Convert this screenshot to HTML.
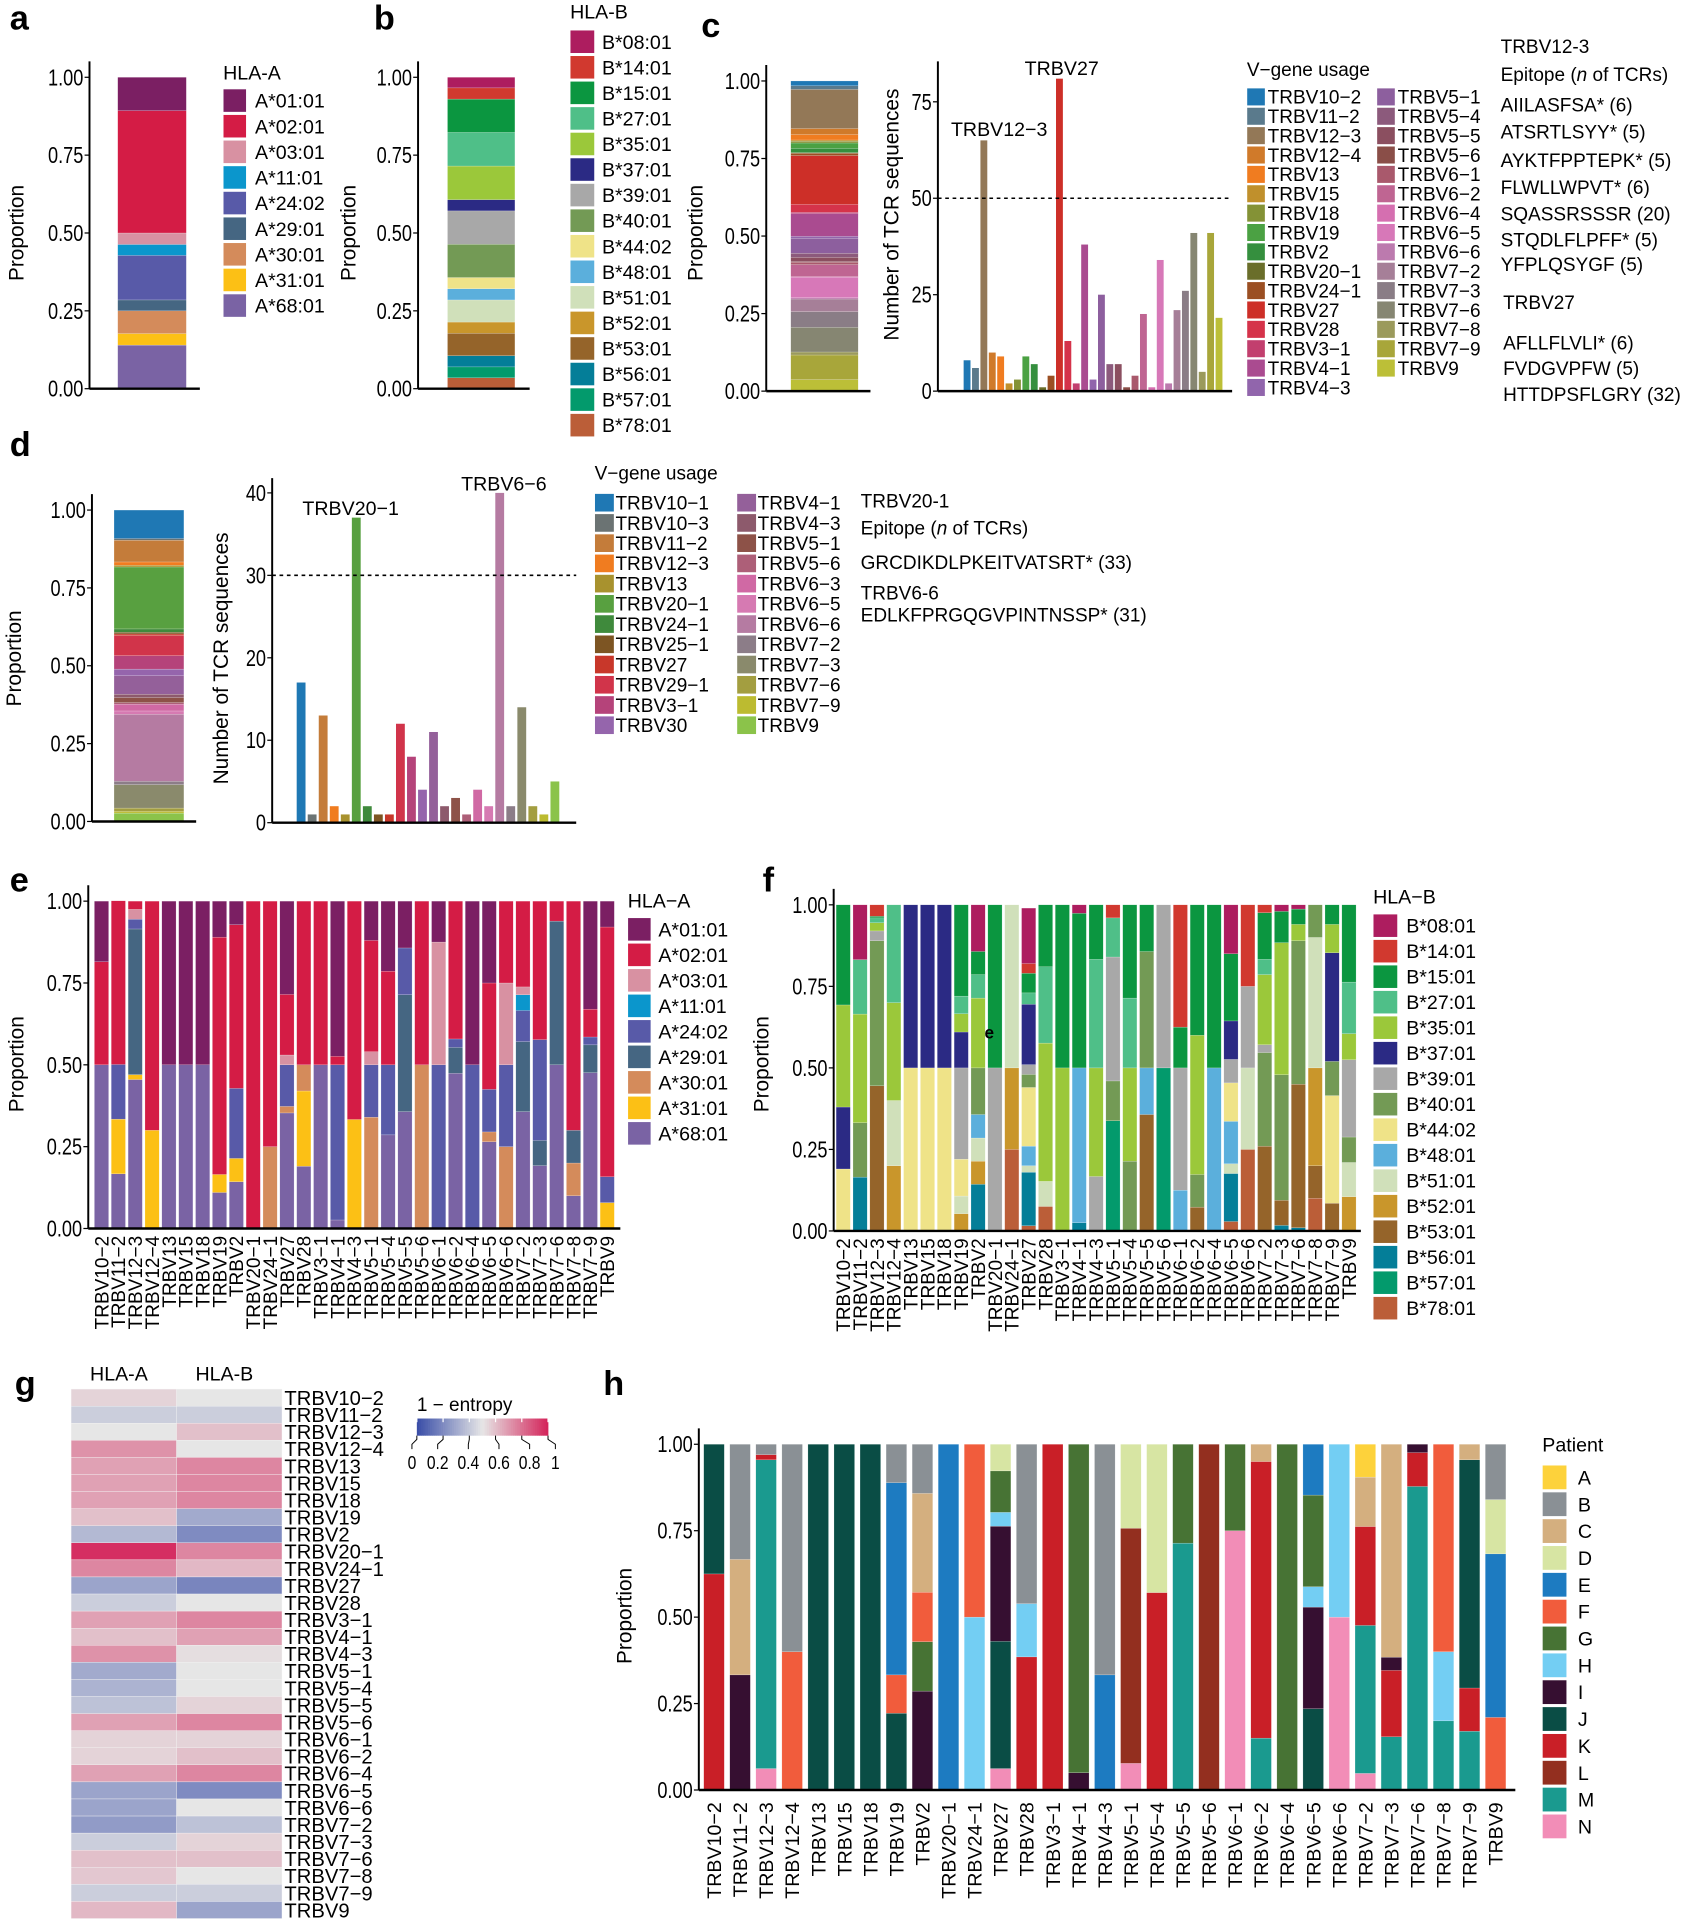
<!DOCTYPE html>
<html><head><meta charset="utf-8">
<style>
html,body{margin:0;padding:0;background:#fff;}
svg{display:block;}
text{font-family:"Liberation Sans Narrow","Liberation Sans",sans-serif;fill:#000;}
.lt{font-family:"Liberation Sans",sans-serif;}
</style></head>
<body>
<svg id="fig" xmlns="http://www.w3.org/2000/svg" width="1698" height="1920" viewBox="0 0 1385 1566">
<g id="layer"></g>
</svg>
<script>
// ---------- DATA ----------
const hlaA = ["A*01:01","A*02:01","A*03:01","A*11:01","A*24:02","A*29:01","A*30:01","A*31:01","A*68:01"];
const hlaAColors = ["#7b1f63","#d41c45","#d891a2","#0b96cc","#585aa8","#456682","#d48b5b","#fcc015","#7a63a4"];
const hlaB = ["B*08:01","B*14:01","B*15:01","B*27:01","B*35:01","B*37:01","B*39:01","B*40:01","B*44:02","B*48:01","B*51:01","B*52:01","B*53:01","B*56:01","B*57:01","B*78:01"];
const hlaBColors = ["#ad1d5f","#d1392f","#0b9640","#4fbf88","#9bc83a","#2b2a84","#a8a8a8","#739a55","#efe388","#5bafdc","#d0e0ba","#c9962b","#95642a","#047e98","#039a6c","#bb5e38"];
const aValues = [0.107,0.393,0.037,0.035,0.143,0.035,0.073,0.037,0.14];
const bValues = [0.034,0.036,0.107,0.108,0.108,0.036,0.107,0.107,0.036,0.036,0.071,0.036,0.072,0.036,0.035,0.035];

const cGenes = ["TRBV10-2","TRBV11-2","TRBV12-3","TRBV12-4","TRBV13","TRBV15","TRBV18","TRBV19","TRBV2","TRBV20-1","TRBV24-1","TRBV27","TRBV28","TRBV3-1","TRBV4-1","TRBV4-3","TRBV5-1","TRBV5-4","TRBV5-5","TRBV5-6","TRBV6-1","TRBV6-2","TRBV6-4","TRBV6-5","TRBV6-6","TRBV7-2","TRBV7-3","TRBV7-6","TRBV7-8","TRBV7-9","TRBV9"];
const cCounts = [8,6,65,10,9,2,3,9,7,1,4,81,13,2,38,3,25,7,7,1,4,20,1,34,2,21,26,41,5,41,19];
const cColors = ["#1f78b4","#5a7a8c","#937857","#d07a2a","#f07c20","#c0902c","#849236","#4ba143","#358f3e","#6a6e2a","#9b4f23","#cd2f28","#d5334a","#c23f6e","#aa4b90","#9165ac","#8d5f9e","#8c5a7c","#8b4f60","#8a4e48","#a9596c","#bf6592","#d56fb0","#d778b8","#bc7aae","#a67f98","#8a7d86","#868672","#9b9a5c","#a8a63a","#bcbf37"];
const cTicks = [0,25,50,75];

const dGenes = ["TRBV10-1","TRBV10-3","TRBV11-2","TRBV12-3","TRBV13","TRBV20-1","TRBV24-1","TRBV25-1","TRBV27","TRBV29-1","TRBV3-1","TRBV30","TRBV4-1","TRBV4-3","TRBV5-1","TRBV5-6","TRBV6-3","TRBV6-5","TRBV6-6","TRBV7-2","TRBV7-3","TRBV7-6","TRBV7-9","TRBV9"];
const dCounts = [17,1,13,2,1,37,2,1,1,12,8,4,11,2,3,1,4,2,40,2,14,2,1,5];
const dColors = ["#1f78b4","#6b7373","#c47c3a","#f07c20","#a8922e","#58a040","#3f8a3c","#7d5523","#c8372a","#d1344a","#b5437a","#9565ac","#94609a","#8d5a6c","#8d5248","#ad5f78","#d069a4","#d67ab2","#b57ba2","#8c7d88","#8a8a6c","#a39e40","#bcbb30","#8bc34a"];
const dTicks = [0,10,20,30,40];

const vCats = ["TRBV10-2","TRBV11-2","TRBV12-3","TRBV12-4","TRBV13","TRBV15","TRBV18","TRBV19","TRBV2","TRBV20-1","TRBV24-1","TRBV27","TRBV28","TRBV3-1","TRBV4-1","TRBV4-3","TRBV5-1","TRBV5-4","TRBV5-5","TRBV5-6","TRBV6-1","TRBV6-2","TRBV6-4","TRBV6-5","TRBV6-6","TRBV7-2","TRBV7-3","TRBV7-6","TRBV7-8","TRBV7-9","TRBV9"];
const propTicks = [0,0.25,0.5,0.75,1];

const eKeys = ["01","02","03","11","24","29","30","31","68"];
const eSegments = [
 {"68":.5,"02":.315,"01":.185},{"68":.167,"31":.167,"24":.167,"02":.5},
 {"68":.455,"31":.015,"29":.445,"24":.03,"03":.03,"02":.025},{"31":.3,"02":.7},
 {"68":.5,"01":.5},{"68":.5,"01":.5},{"68":.5,"01":.5},
 {"68":.11,"31":.055,"02":.725,"01":.11},{"68":.143,"31":.071,"24":.214,"02":.5,"01":.072},
 {"02":1},{"30":.25,"02":.75},
 {"68":.353,"30":.02,"24":.127,"03":.03,"02":.185,"01":.285},{"68":.19,"31":.23,"30":.08,"02":.5},
 {"68":.5,"02":.5},{"68":.026,"24":.474,"02":.026,"01":.474},{"31":.333,"02":.667},
 {"30":.34,"24":.16,"03":.04,"02":.34,"01":.12},{"68":.286,"24":.214,"02":.286,"01":.214},
 {"68":.357,"29":.357,"24":.143,"01":.143},{"30":.5,"02":.5},{"24":.5,"03":.375,"01":.125},
 {"68":.474,"29":.079,"24":.026,"02":.421},{"24":.5,"01":.5},
 {"68":.265,"30":.03,"24":.13,"02":.325,"01":.25},{"30":.25,"24":.25,"03":.25,"02":.25},
 {"68":.357,"29":.214,"24":.095,"11":.048,"03":.024,"02":.262},{"68":.192,"29":.077,"24":.308,"02":.423},
 {"68":.5,"29":.439,"02":.061},{"68":.1,"30":.1,"29":.1,"02":.7},
 {"68":.476,"29":.085,"24":.024,"02":.085,"01":.33},{"31":.079,"24":.079,"02":.763,"01":.079}
];
const fKeys = ["08","14","15","27","35","37","39","40","44","48","51","52","53","56","57","78"];
const fSegments = [
 {"44":.19,"37":.19,"35":.313,"15":.307},{"56":.165,"40":.167,"35":.333,"27":.167,"08":.168},
 {"53":.445,"40":.445,"39":.03,"35":.025,"27":.015,"15":.005,"14":.035},{"52":.2,"51":.2,"35":.3,"27":.3},
 {"44":.5,"37":.5},{"44":.5,"37":.5},{"44":.5,"37":.5},
 {"52":.053,"51":.054,"44":.113,"39":.28,"37":.11,"35":.056,"27":.054,"15":.28},
 {"56":.143,"52":.071,"51":.071,"48":.072,"40":.143,"35":.214,"27":.072,"15":.071,"08":.143},
 {"39":.5,"15":.5},{"78":.25,"52":.25,"51":.5},
 {"78":.016,"56":.164,"51":.02,"48":.06,"44":.18,"40":.04,"39":.03,"37":.185,"27":.035,"15":.06,"14":.03,"08":.17},
 {"78":.075,"51":.077,"35":.424,"27":.234,"15":.19},{"35":.5,"15":.5},
 {"56":.025,"48":.475,"15":.474,"08":.026},{"39":.167,"35":.333,"27":.333,"15":.167},
 {"57":.338,"40":.122,"39":.38,"27":.12,"14":.04},{"40":.214,"35":.286,"27":.214,"15":.286},
 {"53":.357,"48":.143,"40":.357,"15":.143},{"57":.5,"39":.5},{"48":.125,"39":.375,"15":.125,"14":.375},
 {"53":.073,"40":.1,"35":.427,"15":.4},{"48":.5,"15":.5},
 {"78":.029,"56":.147,"51":.03,"48":.13,"44":.118,"39":.072,"37":.118,"15":.206,"08":.15},
 {"78":.25,"51":.25,"39":.25,"14":.25},
 {"53":.26,"40":.287,"39":.024,"35":.215,"27":.047,"15":.143,"14":.024},
 {"56":.017,"53":.077,"40":.385,"35":.405,"15":.096,"08":.02},
 {"56":.01,"53":.44,"40":.44,"35":.05,"15":.047,"08":.013},
 {"78":.1,"53":.1,"52":.3,"51":.4,"40":.1},
 {"53":.085,"44":.33,"40":.105,"37":.333,"35":.087,"15":.06},
 {"52":.105,"51":.105,"40":.078,"39":.237,"35":.08,"27":.158,"15":.237}
];
const gColumns = ["HLA-A","HLA-B"];
const gHlaA = [.55,.42,.5,.72,.68,.68,.68,.6,.35,.98,.75,.28,.42,.68,.6,.72,.3,.33,.38,.68,.55,.55,.68,.28,.28,.25,.42,.6,.58,.42,.62];
const gHlaB = [.5,.42,.6,.5,.75,.75,.75,.3,.2,.75,.62,.18,.5,.75,.68,.52,.5,.5,.55,.75,.55,.6,.75,.2,.5,.38,.55,.6,.5,.42,.28];
const gScaleTicks = ["0","0.2","0.4","0.6","0.8","1"];
const patients = ["A","B","C","D","E","F","G","H","I","J","K","L","M","N"];
const patientColors = ["#fdd23b","#8a9095","#d4af7f","#d7e5a3","#1d7bc1","#f15c3c","#477334","#73cef3","#360f31","#0a4d45","#c91f27","#932f1f","#1a9a8f","#f28db7"];
const hSegments = [
 {K:.625,J:.375},{I:.333,C:.334,B:.333},{N:.062,M:.893,K:.015,B:.03},{F:.4,B:.6},
 {J:1},{J:1},{J:1},{J:.222,F:.111,E:.556,B:.111},{I:.286,G:.143,F:.143,C:.286,B:.142},
 {E:1},{H:.5,F:.5},{N:.062,J:.368,I:.333,H:.04,G:.12,D:.077},{K:.385,H:.154,B:.461},
 {K:1},{I:.05,G:.95},{E:.333,B:.667},{N:.077,L:.68,D:.243},{K:.571,D:.429},{M:.714,G:.286},
 {L:1},{N:.75,G:.25},{M:.15,K:.8,C:.05},{G:1},{J:.235,I:.294,H:.059,G:.265,E:.147},
 {N:.5,H:.5},{N:.048,M:.428,K:.286,C:.143,A:.095},{M:.154,K:.192,I:.038,C:.616},
 {M:.878,K:.098,I:.024},{M:.2,H:.2,F:.6},{M:.17,K:.125,J:.66,C:.045},{F:.21,E:.473,D:.157,B:.16}
];

// ---------- HELPERS ----------
const NS="http://www.w3.org/2000/svg";
const root=document.getElementById('layer');
function el(tag,attrs,parent,txt){
  const e=document.createElementNS(NS,tag);
  for(const k in attrs) e.setAttribute(k,attrs[k]);
  if(txt!==undefined) e.textContent=txt;
  (parent||root).appendChild(e);
  return e;
}
function group(name,parent){
  const g=el('g',{},parent);
  
  
  return g;
}
function linScale(d0,d1,r0,r1){return v=>r0+(v-d0)/(d1-d0)*(r1-r0);}
function yAxis(g,x,y,ticks,fmt,topY,fs){
  const ax=el('line',{x1:x,x2:x,y1:topY,y2:y(ticks[0]),stroke:'#000','stroke-width':1.6},g);
  
  
  ticks.forEach(t=>{
    el('line',{x1:x-4,x2:x,y1:y(t),y2:y(t),stroke:'#000','stroke-width':1},g);
    const tl=el('text',{x:0,y:0,transform:`translate(${x-5} ${y(t)+6.5}) scale(0.78 1)`,'text-anchor':'end','font-size':fs||19},g,fmt(t));
    
    
  });
}
function xLine(g,x0,x1,y){
  const l=el('line',{x1:x0,x2:x1,y1:y,y2:y,stroke:'#000','stroke-width':2},g);
  
  
}
function yTitle(g,x,cy,txt,fs){
  const t=el('text',{x:x,y:cy,transform:`rotate(-90 ${x} ${cy})`,'text-anchor':'middle','font-size':fs||17,class:'lt'},g,txt);
  
  
}
function letter(ch,x,y){
  const t=el('text',{x:x,y:y,'font-size':28,'font-weight':'bold',class:'lt'},root,ch);
  
  
}
function legend(g,title,labels,colors,x,tx,y0,step,sw,sh,fs,ty,sx){
  sx=sx||1;
  if(title){
    const tt=el('text',{x:0,y:0,transform:`translate(${x} ${ty}) scale(${sx} 1)`,'font-size':fs},g,title);
    
    
  }
  labels.forEach((lab,i)=>{
    const cy=y0+i*step;
    const r=el('rect',{x:x,y:cy-sh/2,width:sw,height:sh,fill:colors[i],stroke:'#fff','stroke-width':0.6},g);
    
    
    const t=el('text',{x:0,y:0,transform:`translate(${tx} ${cy+fs*0.36}) scale(${sx} 1)`,'font-size':fs},g,lab);
    
    
  });
}
function stackSingle(g,vals,colors,x,w,y){
  let acc=0;
  for(let i=vals.length-1;i>=0;i--){
    const y0=y(acc), y1=y(acc+vals[i]);
    const r=el('rect',{x:x,y:y1,width:w,height:y0-y1,fill:colors[i],stroke:'#fff','stroke-width':0.3,'stroke-opacity':0.5},g);
    
    
    acc+=vals[i];
  }
}
function stackCats(g,segs,keys,colors,x0,step,w,y){
  segs.forEach((seg,ci)=>{
    let acc=0;
    for(let k=keys.length-1;k>=0;k--){
      const v=seg[keys[k]]; if(!v) continue;
      const y0=y(acc), y1=y(acc+v);
      const r=el('rect',{x:x0+ci*step,y:y1,width:w,height:y0-y1,fill:colors[k],stroke:'#fff','stroke-width':0.3,'stroke-opacity':0.5},g);
      
      
      acc+=v;
    }
  });
}
function xLabels(g,cats,x0,step,w,yTop,fs){
  cats.forEach((c,i)=>{
    const cx=x0+i*step+w/2+fs*0.36;
    const t=el('text',{x:cx,y:yTop,transform:`rotate(-90 ${cx} ${yTop})`,'text-anchor':'end','font-size':fs,class:'lt'},g,c);
    
    
  });
}
const f2=v=>v.toFixed(2);

// ---------- PANEL A ----------
letter('a',8,24);
{const g=group('panel-a');
 const y=linScale(0,1,317,63);
 stackSingle(g,aValues,hlaAColors,96,56,y);
 yAxis(g,73,y,propTicks,f2,50);
 xLine(g,73,163,317);
 yTitle(g,19,190,'Proportion');
 legend(g,'HLA-A',hlaA,hlaAColors,182,208,82,20.9,19,19,16,65);
}
// ---------- PANEL B ----------
letter('b',305,24);
{const g=group('panel-b');
 const y=linScale(0,1,317,63);
 stackSingle(g,bValues,hlaBColors,365,55,y);
 yAxis(g,341,y,propTicks,f2,50);
 xLine(g,341,432,317);
 yTitle(g,290,190,'Proportion');
 legend(g,'HLA-B',hlaB,hlaBColors,465,491,34,20.85,20,19,16,15);
}
// ---------- PANEL C ----------
letter('c',572,30);
{const g=group('panel-c-stack');
 const y=linScale(0,1,319,66);
 const tot=cCounts.reduce((a,b)=>a+b,0);
 stackSingle(g,cCounts.map(v=>v/tot),cColors,645,55,y);
 yAxis(g,625,y,propTicks,f2,53);
 xLine(g,625,710,319);
 yTitle(g,573,190,'Proportion');
}
{const g=group('panel-c-bars');
 const y=linScale(0,75,319,83);
 const x0=786,step=6.85,w=5.6;
 cCounts.forEach((v,i)=>{
   const r=el('rect',{x:x0+i*step,y:y(v),width:w,height:y(0)-y(v),fill:cColors[i]},g);
   
   
 });
 yAxis(g,765,y,cTicks,v=>String(v),50);
 xLine(g,765,1005,319);
 const dl=el('line',{x1:765,x2:1003,y1:y(50),y2:y(50),stroke:'#000','stroke-width':1.3,'stroke-dasharray':'3,3'},g);
 
 
 yTitle(g,733,175,'Number of TCR sequences');
 const a1=el('text',{x:866,y:61,'text-anchor':'middle','font-size':16},g,'TRBV27');
 
 
 const a2=el('text',{x:815,y:111,'text-anchor':'middle','font-size':16},g,'TRBV12\u22123');
 
 
 const lg=group('panel-c-legend',g);
 const lab=cGenes.map(s=>s.replace('-','\u2212'));
 legend(lg,'V\u2212gene usage',lab.slice(0,16),cColors.slice(0,16),1017,1034,79,15.8,15,14.5,15.5,62);
 legend(lg,null,lab.slice(16),cColors.slice(16),1123,1140,79,15.8,15,14.5,15.5);
 const ep=group('panel-c-epitopes',g);
 [['TRBV12-3',43],['Epitope (n of TCRs)',66],['AIILASFSA* (6)',91],['ATSRTLSYY* (5)',113],['AYKTFPPTEPK* (5)',136],['FLWLLWPVT* (6)',158],['SQASSRSSSR (20)',180],['STQDLFLPFF* (5)',201],['YFPLQSYGF (5)',221],['TRBV27',252],['AFLLFLVLI* (6)',285],['FVDGVPFW (5)',306],['HTTDPSFLGRY (32)',327]].forEach(([s,yy],i)=>{
   const t=el('text',{x:i<9?1224:1226,y:yy,'font-size':15.5},ep);
   if(s.startsWith('Epitope')){t.innerHTML='Epitope (<tspan font-style="italic">n</tspan> of TCRs)';}
   else t.textContent=s;
   
   
 });
}
// ---------- PANEL D ----------
letter('d',8,372);
{const g=group('panel-d-stack');
 const y=linScale(0,1,670,416);
 const tot=dCounts.reduce((a,b)=>a+b,0);
 stackSingle(g,dCounts.map(v=>v/tot),dColors,93,57,y);
 yAxis(g,75,y,propTicks,f2,403);
 xLine(g,75,160,670);
 yTitle(g,17,537,'Proportion');
}
{const g=group('panel-d-bars');
 const y=linScale(0,40,671,402);
 const x0=242,step=9.0,w=7.2;
 dCounts.forEach((v,i)=>{
   const r=el('rect',{x:x0+i*step,y:y(v),width:w,height:y(0)-y(v),fill:dColors[i]},g);
   
   
 });
 yAxis(g,222,y,dTicks,v=>String(v),390);
 xLine(g,222,470,671);
 const dl=el('line',{x1:222,x2:470,y1:y(30),y2:y(30),stroke:'#000','stroke-width':1.3,'stroke-dasharray':'3,3'},g);
 
 
 yTitle(g,186,537,'Number of TCR sequences');
 const a1=el('text',{x:286,y:420,'text-anchor':'middle','font-size':16},g,'TRBV20\u22121');
 
 
 const a2=el('text',{x:411,y:400,'text-anchor':'middle','font-size':16},g,'TRBV6\u22126');
 
 
 const lg=group('panel-d-legend',g);
 const lab=dGenes.map(s=>s.replace('-','\u2212'));
 legend(lg,'V\u2212gene usage',lab.slice(0,12),dColors.slice(0,12),485,502,410,16.5,16,15,15.5,391);
 legend(lg,null,lab.slice(12),dColors.slice(12),601,618,410,16.5,16,15,15.5);
 const ep=group('panel-d-epitopes',g);
 [['TRBV20-1',414],['Epitope (n of TCRs)',436],['GRCDIKDLPKEITVATSRT* (33)',464],['TRBV6-6',489],['EDLKFPRGQGVPINTNSSP* (31)',507]].forEach(([s,yy])=>{
   const t=el('text',{x:702,y:yy,'font-size':15.5},ep);
   if(s.startsWith('Epitope')){t.innerHTML='Epitope (<tspan font-style="italic">n</tspan> of TCRs)';}
   else t.textContent=s;
   
   
 });
}
// ---------- PANEL E ----------
letter('e',8,727);
{const g=group('panel-e');
 const y=linScale(0,1,1002,735);
 const x0=77,step=13.75,w=11.6;
 stackCats(g,eSegments,eKeys,hlaAColors,x0,step,w,y);
 yAxis(g,72,y,propTicks,f2,722);
 xLine(g,72,506,1002);
 yTitle(g,19,868,'Proportion');
 xLabels(g,vCats.map(s=>s.replace('-','\u2212')),x0,step,w,1008,15.5);
 legend(g,'HLA\u2212A',hlaA,hlaAColors,512,537,758,20.8,19,19,16,740);
}
// ---------- PANEL F ----------
letter('f',622,727);
{const g=group('panel-f');
 const y=linScale(0,1,1004,738);
 const x0=682,step=13.75,w=11.6;
 stackCats(g,fSegments,fKeys,hlaBColors,x0,step,w,y);
 yAxis(g,680,y,propTicks,f2,725);
 xLine(g,680,1110,1004);
 yTitle(g,627,868,'Proportion');
 xLabels(g,vCats.map(s=>s.replace('-','\u2212')),x0,step,w,1010,15.5);
 legend(g,'HLA\u2212B',hlaB,hlaBColors,1120,1147,755,20.8,20,19,16,737);
 const st=el('text',{x:803,y:847,'font-size':14,'font-weight':'bold',class:'lt'},g,'e');
 
 
}
// ---------- PANEL G ----------
letter('g',12,1138);
{const g=group('panel-g');
 const top=1133,rowH=13.93,cx0=58,colW=86;
 function heat(v){
   const lo=[59,79,168],mid=[230,230,230],hi=[212,38,92];
   let a,b,t;
   if(v<0.5){a=lo;b=mid;t=v/0.5;}else{a=mid;b=hi;t=(v-0.5)/0.5;}
   return `rgb(${a.map((c,i)=>Math.round(c+(b[i]-c)*t)).join(',')})`;
 }
 [gHlaA,gHlaB].forEach((col,ci)=>{
   col.forEach((v,ri)=>{
     const r=el('rect',{x:cx0+ci*colW,y:top+ri*rowH,width:colW,height:rowH,fill:heat(v),stroke:'#f4f4f4','stroke-width':0.3},g);
     
     
   });
   const h=el('text',{x:cx0+ci*colW+colW/2-4,y:1126,'text-anchor':'middle','font-size':16,class:'lt'},g,gColumns[ci]);
   
   
 });
 vCats.forEach((c,ri)=>{
   const t=el('text',{x:cx0+2*colW+2,y:top+ri*rowH+rowH/2+6,'font-size':16.5,class:'lt'},g,c.replace('-','\u2212'));
   
   
 });
 const cb=group('colorbar',g);
 const ct=el('text',{x:340,y:1151,'font-size':15.5,class:'lt'},cb,'1 \u2212 entropy');
 
 
 const bx0=340,bx1=447,by=1157,bh=14;
 const labX=[336,357,382,407,432,453];
 for(let i=0;i<60;i++){
   const r=el('rect',{x:bx0+i*(bx1-bx0)/60,y:by,width:(bx1-bx0)/60+0.3,height:bh,fill:heat(i/59)},cb);
   
   
 }
 gScaleTicks.forEach((s,i)=>{
   const tx=bx0+i*(bx1-bx0)/5;
   const lx=labX[i];
   el('line',{x1:tx,x2:tx,y1:by,y2:by+3,stroke:'#fff','stroke-width':1},cb);
   el('path',{d:`M${tx} ${by+bh} l0 3 L${lx} ${by+bh+7} l0 4`,stroke:'#000','stroke-width':0.8,fill:'none'},cb);
   const t=el('text',{x:0,y:0,transform:`translate(${lx} 1198) scale(0.85 1)`,'text-anchor':'middle','font-size':15,class:'lt'},cb,s);
   
   
 });
}
// ---------- PANEL H ----------
letter('h',492,1138);
{const g=group('panel-h');
 const y=linScale(0,1,1460,1178);
 const x0=574,step=21.25,w=16.8;
 stackCats(g,hSegments,patients,patientColors,x0,step,w,y);
 yAxis(g,570,y,propTicks,f2,1165);
 xLine(g,570,1236,1460);
 yTitle(g,515,1318,'Proportion');
 xLabels(g,vCats.map(s=>s.replace('-','\u2212')),x0,step,w,1470,16);
 legend(g,'Patient',patients,patientColors,1258,1287,1205,21.9,20,20,16,1184);
}
</script>
</body></html>
